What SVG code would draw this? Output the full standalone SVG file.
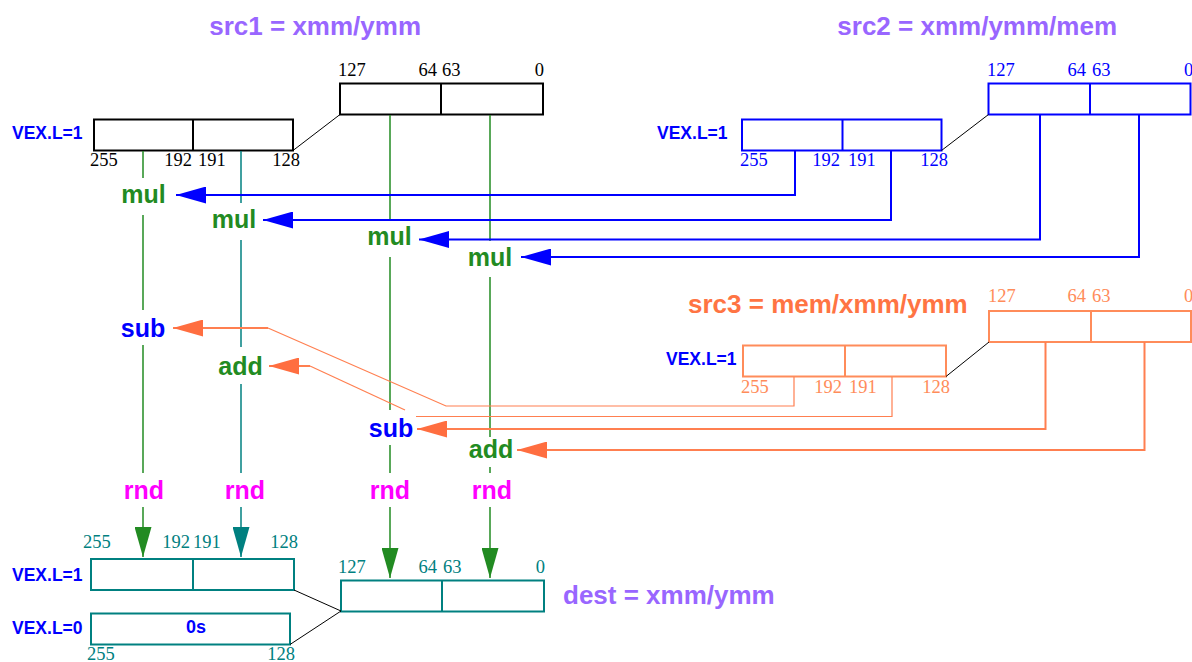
<svg xmlns="http://www.w3.org/2000/svg" width="1192" height="662" viewBox="0 0 1192 662">
  <style>
    .title { font-family: "Liberation Sans", Arial, sans-serif; font-weight: bold; font-size: 26px; }
    .op { font-family: "Liberation Sans", Arial, sans-serif; font-weight: bold; font-size: 25px; text-anchor: middle; }
    .vex { font-family: "Liberation Sans", Arial, sans-serif; font-weight: bold; font-size: 17.5px; fill: #0000ff; }
    .bit { font-family: "Liberation Serif", "Times New Roman", serif; font-size: 18.5px; }
    .end { text-anchor: end; }
    .box { fill: #ffffff; stroke-width: 2; }
    .link { stroke: #000000; stroke-width: 1; fill: none; }
    .wire { fill: none; stroke-width: 1.5; }
    .feed { fill: none; stroke-width: 2; }
    .thin { fill: none; stroke-width: 1.2; }
    .green { stroke: #228b22; }
    .teal { stroke: #008080; }
    .blue { stroke: #0000ff; }
    .coral { stroke: #ff7f50; }
  </style>
  <defs>
    <marker id="ah-blue" viewBox="0 0 30 17" refX="30" refY="8.5" markerWidth="30" markerHeight="17" markerUnits="userSpaceOnUse" orient="auto">
      <path d="M0,0 L30,8.5 L0,17 Z" fill="#0000ff"/>
    </marker>
    <marker id="ah-coral" viewBox="0 0 30 17" refX="30" refY="8.5" markerWidth="30" markerHeight="17" markerUnits="userSpaceOnUse" orient="auto">
      <path d="M0,0 L30,8.5 L0,17 Z" fill="#ff6e40"/>
    </marker>
    <marker id="ah-green" viewBox="0 0 30 17" refX="30" refY="8.5" markerWidth="30" markerHeight="17" markerUnits="userSpaceOnUse" orient="auto">
      <path d="M0,0 L30,8.5 L0,17 Z" fill="#228b22"/>
    </marker>
    <marker id="ah-teal" viewBox="0 0 30 17" refX="30" refY="8.5" markerWidth="30" markerHeight="17" markerUnits="userSpaceOnUse" orient="auto">
      <path d="M0,0 L30,8.5 L0,17 Z" fill="#008080"/>
    </marker>
  </defs>

  <rect width="1192" height="662" fill="#ffffff"/>

  <!-- src1 register -->
  <g id="src1">
    <text class="title" x="421" y="35" text-anchor="end" fill="#9966ff">src1 = xmm/ymm</text>
    <rect class="box" x="340" y="83.5" width="203" height="31" stroke="#000000"/>
    <line x1="441" y1="83.5" x2="441" y2="114.5" stroke="#000000" stroke-width="2"/>
    <g class="bit" fill="#000000">
      <text x="338" y="76">127</text>
      <text x="437" y="76" class="end">64</text>
      <text x="442" y="76">63</text>
      <text x="544" y="76" class="end">0</text>
    </g>
    <text class="vex" x="12" y="139">VEX.L=1</text>
    <rect class="box" x="94" y="119.5" width="199" height="31" stroke="#000000"/>
    <line x1="193" y1="119.5" x2="193" y2="150.5" stroke="#000000" stroke-width="2"/>
    <g class="bit" fill="#000000">
      <text x="90" y="166">255</text>
      <text x="192" y="166" class="end">192</text>
      <text x="198" y="166">191</text>
      <text x="300" y="166" class="end">128</text>
    </g>
    <line class="link" x1="293" y1="150.5" x2="340" y2="114.5"/>
  </g>

  <!-- src2 register -->
  <g id="src2">
    <text class="title" x="1117" y="35" text-anchor="end" fill="#9966ff">src2 = xmm/ymm/mem</text>
    <rect class="box" x="988.5" y="83.5" width="202" height="31" stroke="#0000ff"/>
    <line x1="1090" y1="83.5" x2="1090" y2="114.5" stroke="#0000ff" stroke-width="2"/>
    <g class="bit" fill="#0000ff">
      <text x="987" y="76">127</text>
      <text x="1086" y="76" class="end">64</text>
      <text x="1092" y="76">63</text>
      <text x="1184" y="76">0</text>
    </g>
    <text class="vex" x="657" y="139">VEX.L=1</text>
    <rect class="box" x="742" y="119.5" width="199.5" height="31" stroke="#0000ff"/>
    <line x1="842.5" y1="119.5" x2="842.5" y2="150.5" stroke="#0000ff" stroke-width="2"/>
    <g class="bit" fill="#0000ff">
      <text x="740" y="166">255</text>
      <text x="840" y="166" class="end">192</text>
      <text x="848" y="166">191</text>
      <text x="948" y="166" class="end">128</text>
    </g>
    <line class="link" x1="941.5" y1="150.5" x2="988.5" y2="114.5"/>
  </g>

  <!-- src3 register -->
  <g id="src3">
    <text class="title" x="688" y="313" fill="#ff7443">src3 = mem/xmm/ymm</text>
    <rect class="box" x="989" y="311" width="202" height="31" stroke="#ff8c5a"/>
    <line x1="1091" y1="311" x2="1091" y2="342" stroke="#ff8c5a" stroke-width="2"/>
    <g class="bit" fill="#ff8c5a">
      <text x="988" y="302">127</text>
      <text x="1086" y="302" class="end">64</text>
      <text x="1092" y="302">63</text>
      <text x="1184" y="302">0</text>
    </g>
    <text class="vex" x="666" y="365">VEX.L=1</text>
    <rect class="box" x="743" y="345.5" width="203" height="31" stroke="#ff8c5a"/>
    <line x1="845" y1="345.5" x2="845" y2="376.5" stroke="#ff8c5a" stroke-width="2"/>
    <g class="bit" fill="#ff8c5a">
      <text x="741" y="393">255</text>
      <text x="842" y="393" class="end">192</text>
      <text x="849" y="393">191</text>
      <text x="950" y="393" class="end">128</text>
    </g>
    <line class="link" x1="946" y1="376.5" x2="989" y2="342"/>
  </g>

  <!-- dest register -->
  <g id="dest">
    <text class="title" x="563" y="604" fill="#9966ff">dest = xmm/ymm</text>
    <rect class="box" x="341" y="580.5" width="203" height="31" stroke="#008080"/>
    <line x1="442" y1="580.5" x2="442" y2="611.5" stroke="#008080" stroke-width="2"/>
    <g class="bit" fill="#008080">
      <text x="338" y="573">127</text>
      <text x="437" y="573" class="end">64</text>
      <text x="443" y="573">63</text>
      <text x="545" y="573" class="end">0</text>
    </g>
    <text class="vex" x="12" y="581">VEX.L=1</text>
    <rect class="box" x="91" y="559" width="203" height="31" stroke="#008080"/>
    <line x1="193" y1="559" x2="193" y2="590" stroke="#008080" stroke-width="2"/>
    <g class="bit" fill="#008080">
      <text x="83" y="548">255</text>
      <text x="190" y="548" class="end">192</text>
      <text x="193" y="548">191</text>
      <text x="298" y="548" class="end">128</text>
    </g>
    <text class="vex" x="12" y="634">VEX.L=0</text>
    <rect class="box" x="91" y="613.5" width="199" height="31" stroke="#008080"/>
    <text x="196" y="633" text-anchor="middle" font-family="Liberation Sans, Arial, sans-serif" font-weight="bold" font-size="18" fill="#0000ff">0s</text>
    <g class="bit" fill="#008080">
      <text x="87" y="660">255</text>
      <text x="295" y="660" class="end">128</text>
    </g>
    <line class="link" x1="294" y1="590" x2="341" y2="611"/>
    <line class="link" x1="290" y1="644.5" x2="341" y2="611"/>
  </g>

  <!-- operation labels -->
  <g id="op-mul-3" class="op" fill="#228b22"><text x="143.5" y="203">mul</text></g>
  <g id="op-mul-2" class="op" fill="#228b22"><text x="234" y="228">mul</text></g>
  <g id="op-mul-1" class="op" fill="#228b22"><text x="389.5" y="245">mul</text></g>
  <g id="op-mul-0" class="op" fill="#228b22"><text x="490" y="265.5">mul</text></g>
  <g id="op-sub-3" class="op" fill="#0000ff"><text x="143" y="336.5">sub</text></g>
  <g id="op-add-2" class="op" fill="#228b22"><text x="240.5" y="375">add</text></g>
  <g id="op-sub-1" class="op" fill="#0000ff"><text x="391" y="436.5">sub</text></g>
  <g id="op-add-0" class="op" fill="#228b22"><text x="491" y="458">add</text></g>
  <g id="op-rnd-3" class="op" fill="#ff00ff"><text x="144" y="499">rnd</text></g>
  <g id="op-rnd-2" class="op" fill="#ff00ff"><text x="245" y="499">rnd</text></g>
  <g id="op-rnd-1" class="op" fill="#ff00ff"><text x="390" y="499">rnd</text></g>
  <g id="op-rnd-0" class="op" fill="#ff00ff"><text x="492" y="499">rnd</text></g>

  <!-- connectors -->
  <g id="connectors">
    <!-- lane 255..192 -->
    <line class="wire green" x1="143" y1="151" x2="143" y2="178"/>
    <line class="wire green" x1="143" y1="215" x2="143" y2="310"/>
    <line class="wire green" x1="143" y1="345" x2="143" y2="473"/>
    <line class="wire green" x1="143" y1="507" x2="143" y2="557" marker-end="url(#ah-green)"/>
    <!-- lane 191..128 -->
    <line class="wire teal" x1="241" y1="151" x2="241" y2="203"/>
    <line class="wire teal" x1="241" y1="240" x2="241" y2="347"/>
    <line class="wire teal" x1="241" y1="384" x2="241" y2="473"/>
    <line class="wire teal" x1="241" y1="507" x2="241" y2="557" marker-end="url(#ah-teal)"/>
    <!-- lane 127..64 -->
    <line class="wire green" x1="390" y1="115" x2="390" y2="219"/>
    <line class="wire green" x1="390" y1="257" x2="390" y2="410"/>
    <line class="wire green" x1="390" y1="445" x2="390" y2="473"/>
    <line class="wire green" x1="390" y1="507" x2="390" y2="578" marker-end="url(#ah-green)"/>
    <!-- lane 63..0 -->
    <line class="wire green" x1="490" y1="115" x2="490" y2="241"/>
    <line class="wire green" x1="490" y1="277" x2="490" y2="437"/>
    <line class="wire green" x1="490" y1="467" x2="490" y2="473"/>
    <line class="wire green" x1="490" y1="507" x2="490" y2="578" marker-end="url(#ah-green)"/>

    <!-- src2 into the multiplies -->
    <polyline class="feed blue" points="795,151 795,195 176,195" marker-end="url(#ah-blue)"/>
    <polyline class="feed blue" points="891,151 891,220 263,220" marker-end="url(#ah-blue)"/>
    <polyline class="feed blue" points="1040,115 1040,239.5 419,239.5" marker-end="url(#ah-blue)"/>
    <polyline class="feed blue" points="1139,115 1139,257 521,257" marker-end="url(#ah-blue)"/>

    <!-- src3 into the add/sub stage -->
    <polyline class="thin coral" points="794,377 794,406 446,406 268,328"/>
    <line class="feed coral" x1="268" y1="328" x2="173" y2="328" marker-end="url(#ah-coral)"/>
    <polyline class="thin coral" points="892,377 892,416.5 416,416.5"/>
    <polyline class="thin coral" points="405,410 310,366"/>
    <line class="feed coral" x1="310" y1="366" x2="269" y2="366" marker-end="url(#ah-coral)"/>
    <polyline class="feed coral" points="1045.5,342 1045.5,429 417,429" marker-end="url(#ah-coral)"/>
    <polyline class="feed coral" points="1144.5,342 1144.5,450 517,450" marker-end="url(#ah-coral)"/>
  </g>
</svg>
